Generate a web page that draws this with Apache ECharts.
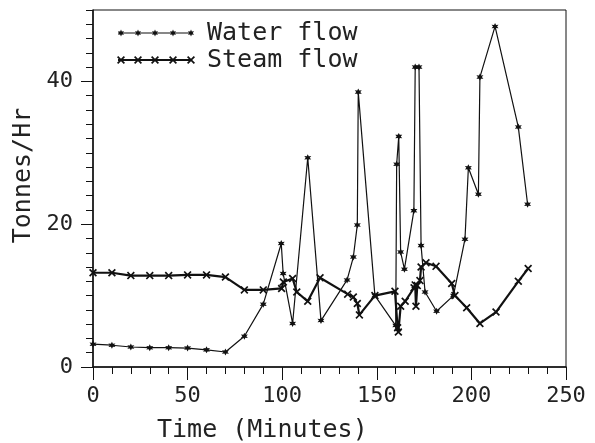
<!DOCTYPE html>
<html>
<head>
<meta charset="utf-8">
<script src="https://cdn.jsdelivr.net/npm/echarts@6/dist/echarts.min.js"></script>
<style>
  html, body { margin: 0; padding: 0; background: #fff; }
  #main { width: 595px; height: 443px; }
</style>
</head>
<body>
<div id="main"></div>
<script>
// water flow readings (time in minutes, tonnes/hr)
var waterTime = [0, 10, 20, 30, 40, 50, 60, 70, 80, 90, 99.5, 100.5, 105.5, 113.5, 120.5, 134.3, 137.6, 139.7, 140.2, 149,
  160, 160.5, 161.6, 162.6, 164.6, 169.6, 170.3, 172.3, 173.4, 175.5, 181.6, 190.5, 196.6, 198.4, 203.7, 204.5, 212.5, 224.8, 229.7];
var waterFlow = [3.2, 3.05, 2.8, 2.7, 2.7, 2.65, 2.4, 2.1, 4.3, 8.8, 17.3, 13.1, 6.1, 29.3, 6.5, 12.2, 15.4, 19.9, 38.5, 10.0,
  5.8, 28.4, 32.3, 16.1, 13.7, 21.9, 42.0, 42.0, 17.0, 10.5, 7.8, 10.0, 17.9, 27.9, 24.2, 40.6, 47.7, 33.6, 22.8];

// steam flow readings
var steamTime = [0, 10, 20, 30, 40, 50, 60, 70, 80, 90, 99.7, 100.6, 105.5, 107.7, 113.5, 120, 134.6, 137.6, 139.7, 140.8,
  149, 159.6, 161, 161.4, 162.6, 165, 169.7, 170.3, 170.7, 171.4, 172.8, 173.4, 176, 181.3, 189.6, 191.3, 197.5, 204.5, 213, 224.8, 230];
var steamFlow = [13.2, 13.2, 12.8, 12.8, 12.8, 12.9, 12.9, 12.6, 10.8, 10.8, 11.0, 11.9, 12.4, 10.5, 9.2, 12.5, 10.2, 9.8, 8.9, 7.3,
  10.0, 10.6, 5.5, 4.9, 8.5, 9.2, 11.1, 11.5, 8.5, 11.4, 12.1, 14.0, 14.6, 14.1, 11.7, 10.0, 8.3, 6.1, 7.7, 12.0, 13.8];

var xTicks = [0, 50, 100, 150, 200, 250];
var yTicks = [0, 20, 40];

var seriesNames = ['Water flow', 'Steam flow'];

// marker outlines on a 20x20 box
var starPts = [[10, 0], [12.5, 5.67], [18.66, 5], [15, 10], [18.66, 15], [12.5, 14.33], [10, 20], [7.5, 14.33], [1.34, 15], [5, 10], [1.34, 5], [7.5, 5.67]];
var crossPts = [[0, 3], [3, 0], [10, 7], [17, 0], [20, 3], [13, 10], [20, 17], [17, 20], [10, 13], [3, 20], [0, 17], [7, 10]];

function toPath(pts) {
  return 'path://' + pts.map(function (p, i) { return (i ? 'L' : 'M') + p[0] + ' ' + p[1]; }).join(' ') + ' Z';
}
var starPath = toPath(starPts);
var crossPath = toPath(crossPts);

function pairs(xs, ys) {
  var out = [];
  for (var i = 0; i < xs.length; i++) out.push([xs[i], ys[i]]);
  return out;
}

var font = 'DejaVu Sans Mono';
var ink = '#111';
var textInk = '#222';

var chart = echarts.init(document.getElementById('main'));

// legend sample: a short line carrying five markers
function legendRow(y, pts, size, width, label) {
  var items = [{
    type: 'line',
    shape: { x1: 118, y1: y, x2: 192, y2: y },
    style: { stroke: ink, lineWidth: width }
  }];
  [121, 138, 155, 173, 191].forEach(function (x) {
    items.push({
      type: 'polygon',
      shape: { points: pts.map(function (p) { return [x - size / 2 + p[0] * size / 20, y - size / 2 + p[1] * size / 20]; }) },
      style: { fill: ink }
    });
  });
  items.push({
    type: 'text',
    x: 207, y: y,
    style: { text: label, font: '25px "' + font + '"', fill: textInk, verticalAlign: 'middle' }
  });
  return items;
}

var option = {
  animation: false,
  backgroundColor: '#fff',
  title: {
    text: 'Time (Minutes)',
    left: 152,
    top: 413,
    textStyle: { fontFamily: font, fontSize: 25, fontWeight: 'normal', color: textInk }
  },
  grid: {
    left: 93, right: 29, top: 10, bottom: 76,
    show: true, borderColor: ink, borderWidth: 1, backgroundColor: 'transparent'
  },
  xAxis: [{
    type: 'value', min: 0, max: 250, interval: 10,
    axisLine: { show: true, onZero: false, lineStyle: { color: ink, width: 1.5 } },
    axisTick: { show: true, length: 7, lineStyle: { color: ink } },
    axisLabel: {
      margin: 18, fontFamily: font, fontSize: 22, color: textInk,
      formatter: function (v) { return xTicks.indexOf(v) >= 0 ? String(v) : ''; }
    },
    splitLine: { show: false }
  }, {
    type: 'value', min: 0, max: 250, interval: 50, position: 'bottom',
    axisLine: { show: false },
    axisTick: { show: true, length: 13, lineStyle: { color: ink } },
    axisLabel: { show: false },
    splitLine: { show: false }
  }],
  yAxis: [{
    type: 'value', min: 0, max: 50, interval: 2,
    name: 'Tonnes/Hr', nameLocation: 'middle', nameGap: 56, nameRotate: 90,
    nameTextStyle: { fontFamily: font, fontSize: 25, color: textInk, padding: [0, 0, 0, 26] },
    axisLine: { show: true, onZero: false, lineStyle: { color: ink, width: 1.5 } },
    axisTick: { show: true, length: 7, lineStyle: { color: ink } },
    axisLabel: {
      margin: 20, fontFamily: font, fontSize: 22, color: textInk,
      formatter: function (v) { return yTicks.indexOf(v) >= 0 ? String(v) : ''; }
    },
    splitLine: { show: false }
  }, {
    type: 'value', min: 0, max: 50, position: 'left',
    axisLine: { show: false },
    axisTick: { show: true, length: 12, customValues: yTicks, lineStyle: { color: ink } },
    axisLabel: { show: false },
    splitLine: { show: false }
  }],
  graphic: legendRow(33, starPts, 7, 1.2, seriesNames[0]).concat(legendRow(60, crossPts, 8, 2.2, seriesNames[1])),
  series: [{
    name: seriesNames[0],
    type: 'line',
    data: pairs(waterTime, waterFlow),
    symbol: starPath,
    symbolSize: 7,
    lineStyle: { color: ink, width: 1.2 },
    itemStyle: { color: ink },
    z: 3
  }, {
    name: seriesNames[1],
    type: 'line',
    data: pairs(steamTime, steamFlow),
    symbol: crossPath,
    symbolSize: 8,
    lineStyle: { color: ink, width: 2.2 },
    itemStyle: { color: ink },
    z: 2
  }]
};

chart.setOption(option);
</script>
</body>
</html>
